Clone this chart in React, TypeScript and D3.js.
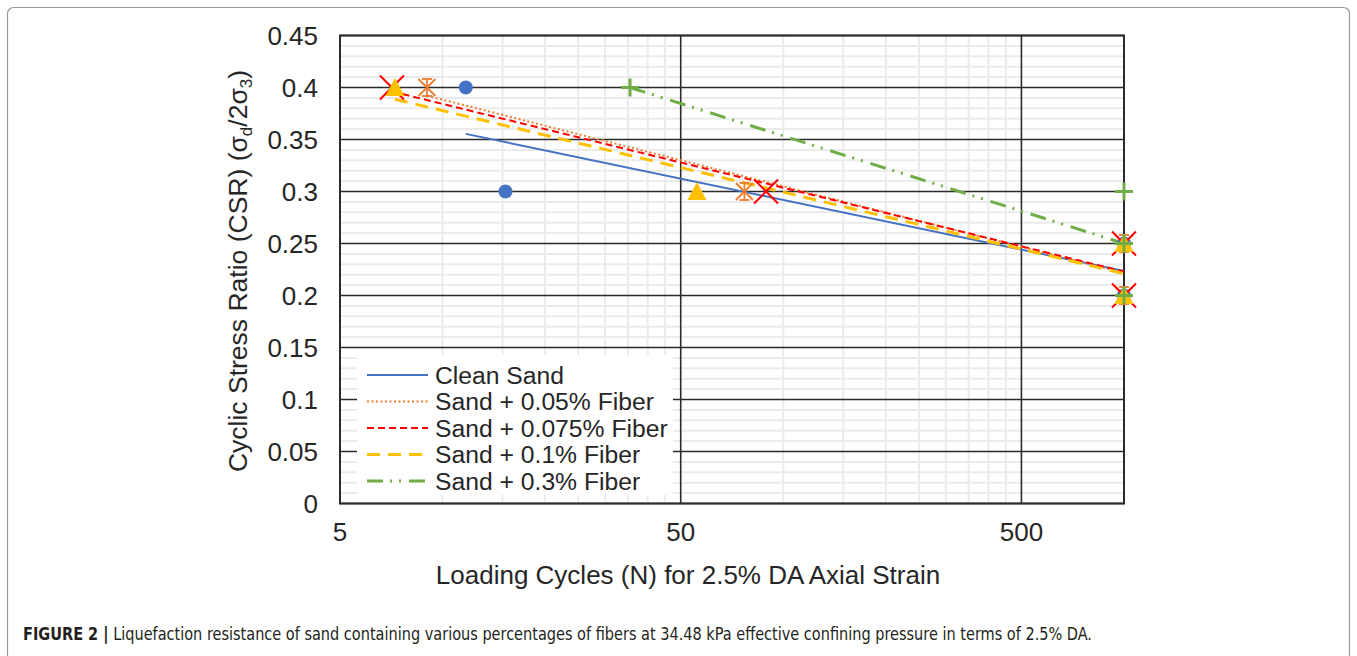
import React from "react";
import * as d3 from "d3";

// ---------- data ----------
const seriesNames = [
  "Clean Sand",
  "Sand + 0.05% Fiber",
  "Sand + 0.075% Fiber",
  "Sand + 0.1% Fiber",
  "Sand + 0.3% Fiber",
];
const cleanSandN = [11.7, 15.3, 1000, 1000];
const cleanSandCSR = [0.4, 0.3, 0.25, 0.2];
const fiber005N = [9, 76.9, 1000, 1000];
const fiber005CSR = [0.4, 0.3, 0.25, 0.2];
const fiber0075N = [7.1, 89, 1000, 1000];
const fiber0075CSR = [0.4, 0.3, 0.25, 0.2];
const fiber01N = [7.25, 55.8, 1000, 1000];
const fiber01CSR = [0.4, 0.3, 0.25, 0.2];
const fiber03N = [35.5, 1000, 1000, 1000];
const fiber03CSR = [0.4, 0.3, 0.25, 0.2];

const yTicks = [0, 0.05, 0.1, 0.15, 0.2, 0.25, 0.3, 0.35, 0.4, 0.45];
const yTickLabels = ["0", "0.05", "0.1", "0.15", "0.2", "0.25", "0.3", "0.35", "0.4", "0.45"];
const xMajorTicks = [5, 50, 500];
const xTickLabels = ["5", "50", "500"];

const xTitle = "Loading Cycles (N) for 2.5% DA Axial Strain";
const captionBold = "FIGURE 2 |";
const captionText =
  " Liquefaction resistance of sand containing various percentages of fibers at 34.48 kPa effective confining pressure in terms of 2.5% DA.";

// ---------- styles ----------
const colors = ["#4472C4", "#ED7D31", "#FF0000", "#FFC000", "#70AD47"];
const dashes = ["", "2 2.5", "7 4", "13 8", "16 7 2 7 2 8"];
const widths = [2, 2, 2, 3, 3];
const markers = ["circle", "star", "x", "triangle", "plus"];

const W = 1357;
const H = 656;
const plot = { left: 340, right: 1124, top: 35.5, bottom: 503.5 };

const x = d3.scaleLog().domain([5, 1000]).range([plot.left, plot.right]);
const y = d3.scaleLinear().domain([0, 0.45]).range([plot.bottom, plot.top]);

const seriesData = [
  { n: cleanSandN, csr: cleanSandCSR },
  { n: fiber005N, csr: fiber005CSR },
  { n: fiber0075N, csr: fiber0075CSR },
  { n: fiber01N, csr: fiber01CSR },
  { n: fiber03N, csr: fiber03CSR },
];

// Excel logarithmic trendline: y = a + b ln(x)
function logFit(ns: number[], vs: number[]) {
  const lx = ns.map((v) => Math.log(v));
  const mx = d3.mean(lx) as number;
  const my = d3.mean(vs) as number;
  let sxy = 0;
  let sxx = 0;
  lx.forEach((v, i) => {
    sxy += (v - mx) * (vs[i] - my);
    sxx += (v - mx) * (v - mx);
  });
  const b = sxy / sxx;
  const a = my - b * mx;
  return (n: number) => a + b * Math.log(n);
}

function Marker({ type, cx, cy, color }: { type: string; cx: number; cy: number; color: string }) {
  if (type === "circle") return <circle cx={cx} cy={cy} r={7} fill={color} />;
  if (type === "triangle") {
    const p = `${cx},${cy - 9.5} ${cx + 9.5},${cy + 8.5} ${cx - 9.5},${cy + 8.5}`;
    return <polygon points={p} fill={color} />;
  }
  if (type === "x") {
    const s = 12;
    return (
      <g stroke={color} strokeWidth={2}>
        <line x1={cx - s} y1={cy - s} x2={cx + s} y2={cy + s} />
        <line x1={cx - s} y1={cy + s} x2={cx + s} y2={cy - s} />
      </g>
    );
  }
  if (type === "plus") {
    const s = 9;
    return (
      <g stroke={color} strokeWidth={3}>
        <line x1={cx - s} y1={cy} x2={cx + s} y2={cy} />
        <line x1={cx} y1={cy - s} x2={cx} y2={cy + s} />
      </g>
    );
  }
  // star
  const s = 8.5;
  return (
    <g stroke={color} strokeWidth={1.8}>
      <line x1={cx - s} y1={cy - s} x2={cx + s} y2={cy + s} />
      <line x1={cx - s} y1={cy + s} x2={cx + s} y2={cy - s} />
      <line x1={cx} y1={cy - s - 1} x2={cx} y2={cy + s + 1} />
      <line x1={cx - 5} y1={cy - s} x2={cx + 5} y2={cy - s} />
      <line x1={cx - 5} y1={cy + s} x2={cx + 5} y2={cy + s} />
    </g>
  );
}

export default function App() {
  // minor gridlines
  const xMinor: number[] = [];
  [5, 50, 500].forEach((base) => {
    for (let k = 2; k <= 9; k++) {
      const v = base * k;
      if (v < 1000) xMinor.push(v);
    }
  });
  const yMinor = d3.range(0, 46).map((i) => i / 100).filter((v) => Math.round(v * 100) % 5 !== 0);

  const font = "'Liberation Sans', Arial, Helvetica, sans-serif";
  const legend = { x: 357, y: 355, w: 316, h: 140, row0: 375, rowH: 26.5 };

  return (
    <svg
      width={W}
      height={H}
      viewBox={`0 0 ${W} ${H}`}
      style={{ position: "absolute", left: 0, top: 0, background: "#fff" }}
      fontFamily={font}
    >
      <rect x={0} y={0} width={W} height={H} fill="#fff" />
      <rect x={7.5} y={7.5} width={1342} height={720} rx={6} fill="none" stroke="#9a9a9a" strokeWidth={1.2} />

      {/* minor gridlines */}
      <g stroke="#ebebeb" strokeWidth={2}>
        {yMinor.map((v) => (
          <line key={"ym" + v} x1={plot.left} x2={plot.right} y1={y(v)} y2={y(v)} />
        ))}
        {xMinor.map((v) => (
          <line key={"xm" + v} x1={x(v)} x2={x(v)} y1={plot.top} y2={plot.bottom} />
        ))}
      </g>
      {/* major gridlines */}
      <g stroke="#2b2b2b" strokeWidth={1.6}>
        {yTicks.map((v) => (
          <line key={"yM" + v} x1={plot.left} x2={plot.right} y1={y(v)} y2={y(v)} />
        ))}
        {xMajorTicks.map((v) => (
          <line key={"xM" + v} x1={x(v)} x2={x(v)} y1={plot.top} y2={plot.bottom} />
        ))}
      </g>
      <rect
        x={plot.left}
        y={plot.top}
        width={plot.right - plot.left}
        height={plot.bottom - plot.top}
        fill="none"
        stroke="#2b2b2b"
        strokeWidth={2}
      />

      {/* trendlines */}
      {seriesData.map((s, i) => {
        const f = logFit(s.n, s.csr);
        const n0 = d3.min(s.n) as number;
        const n1 = d3.max(s.n) as number;
        return (
          <line
            key={"tr" + i}
            x1={x(n0)}
            y1={y(f(n0))}
            x2={x(n1)}
            y2={y(f(n1))}
            stroke={colors[i]}
            strokeWidth={widths[i]}
            strokeDasharray={dashes[i] || undefined}
          />
        );
      })}

      {/* markers */}
      {seriesData.map((s, i) => (
        <g key={"mk" + i}>
          {s.n.map((n, j) => (
            <Marker key={j} type={markers[i]} cx={x(n)} cy={y(s.csr[j])} color={colors[i]} />
          ))}
        </g>
      ))}

      {/* y tick labels */}
      <g fontSize={26} fill="#262626" textAnchor="end">
        {yTicks.map((v, i) => (
          <text key={"yl" + v} x={318} y={y(v)} dy="0.35em">
            {yTickLabels[i]}
          </text>
        ))}
      </g>
      {/* x tick labels */}
      <g fontSize={26} fill="#262626" textAnchor="middle">
        {xMajorTicks.map((v, i) => (
          <text key={"xl" + v} x={x(v)} y={541}>
            {xTickLabels[i]}
          </text>
        ))}
      </g>

      {/* axis titles */}
      <text x={688} y={584} fontSize={26} fill="#262626" textAnchor="middle">
        {xTitle}
      </text>
      <text
        transform={`translate(247, 271) rotate(-90)`}
        fontSize={26.5}
        fill="#262626"
        textAnchor="middle"
      >
        Cyclic Stress Ratio (CSR) (σ
        <tspan fontSize={17} dy={5}>d</tspan>
        <tspan dy={-5}>/2σ</tspan>
        <tspan fontSize={17} dy={5}>3</tspan>
        <tspan dy={-5}>)</tspan>
      </text>

      {/* legend */}
      <rect x={legend.x} y={legend.y} width={legend.w} height={legend.h} fill="#fff" />
      {seriesNames.map((name, i) => {
        const cy = legend.row0 + i * legend.rowH;
        return (
          <g key={"lg" + i}>
            <line
              x1={367}
              x2={428}
              y1={cy}
              y2={cy}
              stroke={colors[i]}
              strokeWidth={widths[i]}
              strokeDasharray={dashes[i] || undefined}
            />
            <text x={435} y={cy} dy="0.35em" fontSize={24.7} fill="#262626">
              {name}
            </text>
          </g>
        );
      })}

      {/* caption */}
      <text
        x={23}
        y={640}
        fontSize={17}
        fill="#231f20"
        fontFamily="'Liberation Sans Narrow', 'DejaVu Sans Condensed', 'Arial Narrow', sans-serif"
        textLength={1069}
        lengthAdjust="spacingAndGlyphs"
      >
        <tspan fontWeight="bold">{captionBold}</tspan>
        <tspan>{captionText}</tspan>
      </text>
    </svg>
  );
}
